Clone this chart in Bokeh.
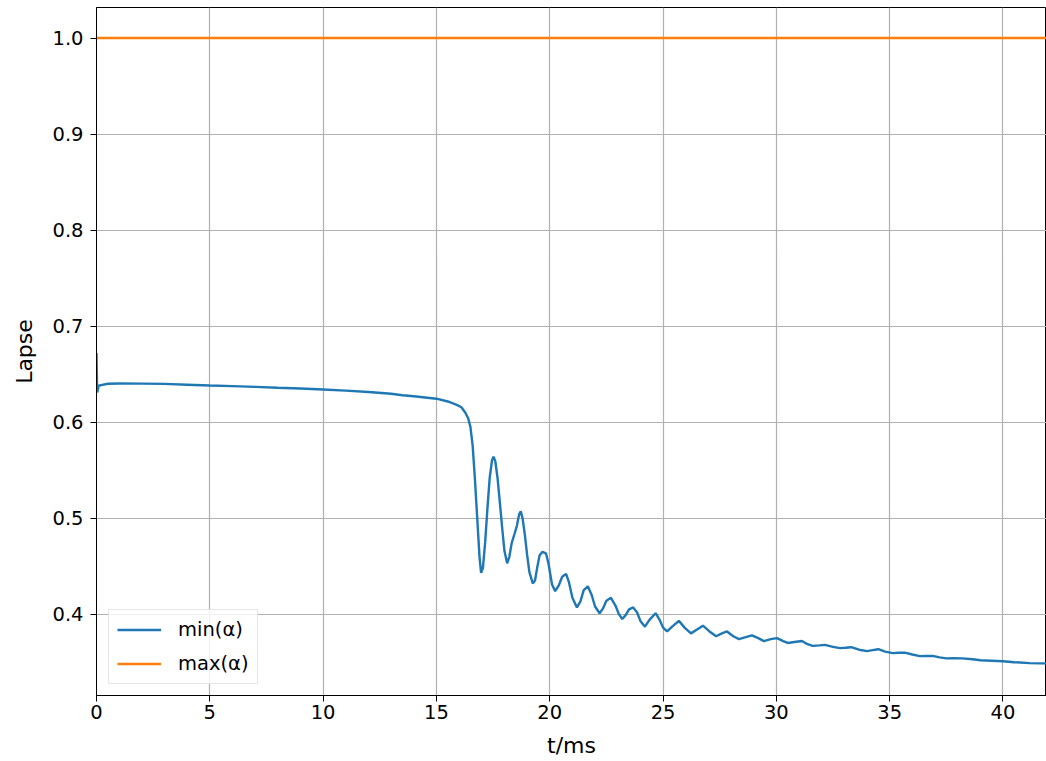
from bokeh.plotting import figure
from bokeh.models import Range1d, FixedTicker, PrintfTickFormatter, Legend, LegendItem
from bokeh.embed import file_html
from bokeh.resources import INLINE

# ---- data ----
t_min = [0.00, 0.03, 0.10, 0.5, 1.0, 2.0, 3.0, 4.0, 5.0, 6.0, 7.0, 8.0, 9.0, 10.0,
         11.0, 12.0, 13.0, 13.5, 14.0, 14.5, 15.0, 15.5, 15.9, 16.1, 16.27, 16.4,
         16.5, 16.6, 16.7, 16.8, 16.9, 16.97, 17.05, 17.15, 17.25, 17.35, 17.45,
         17.52, 17.6, 17.7, 17.8, 17.9, 18.0, 18.12, 18.22, 18.32, 18.45, 18.55,
         18.65, 18.72, 18.8, 18.9, 19.0, 19.1, 19.25, 19.35, 19.45, 19.55, 19.68,
         19.84, 19.95, 20.1, 20.24, 20.4, 20.55, 20.72, 20.85, 21.0, 21.2, 21.35,
         21.5, 21.68, 21.85, 22.0, 22.2, 22.35, 22.5, 22.7, 22.9, 23.05, 23.2,
         23.35, 23.5, 23.68, 23.85, 24.0, 24.2, 24.4, 24.67, 24.85, 25.0, 25.18,
         25.4, 25.7, 25.95, 26.23, 26.5, 26.76, 27.05, 27.34, 27.6, 27.82, 28.1,
         28.35, 28.65, 28.92, 29.2, 29.45, 29.75, 30.03, 30.3, 30.5, 30.8, 31.13,
         31.35, 31.6, 31.9, 32.14, 32.5, 32.8, 33.05, 33.3, 33.65, 34.0, 34.25,
         34.5, 34.8, 35.14, 35.4, 35.67, 36.0, 36.33, 36.6, 36.9, 37.2, 37.5,
         37.85, 38.2, 38.67, 39.0, 39.5, 40.0, 40.5, 41.18, 41.6, 41.92]
alpha_min = [0.672, 0.631, 0.638, 0.640, 0.6402, 0.6401, 0.6398, 0.639, 0.6382,
             0.6375, 0.6367, 0.6358, 0.635, 0.634, 0.6328, 0.6314, 0.6295, 0.628,
             0.627, 0.6257, 0.6244, 0.6215, 0.618, 0.6155, 0.610, 0.604, 0.595,
             0.575, 0.540, 0.500, 0.460, 0.443, 0.448, 0.475, 0.510, 0.542, 0.560,
             0.564, 0.559, 0.541, 0.516, 0.490, 0.466, 0.453, 0.460, 0.474, 0.484,
             0.492, 0.504, 0.507, 0.500, 0.483, 0.462, 0.444, 0.432, 0.435, 0.449,
             0.461, 0.465, 0.463, 0.452, 0.431, 0.424, 0.430, 0.439, 0.442, 0.433,
             0.417, 0.407, 0.413, 0.425, 0.429, 0.420, 0.408, 0.401, 0.406, 0.414,
             0.417, 0.409, 0.400, 0.395, 0.399, 0.405, 0.407, 0.402, 0.393, 0.387,
             0.394, 0.401, 0.394, 0.386, 0.382, 0.387, 0.393, 0.386, 0.380, 0.384,
             0.388, 0.382, 0.377, 0.380, 0.382, 0.377, 0.374, 0.376, 0.378, 0.375,
             0.372, 0.374, 0.375, 0.372, 0.370, 0.371, 0.372, 0.369, 0.367, 0.3675,
             0.368, 0.366, 0.3646, 0.365, 0.3656, 0.363, 0.3615, 0.3625, 0.3635,
             0.361, 0.3594, 0.3598, 0.360, 0.358, 0.3563, 0.3565, 0.3566, 0.355,
             0.354, 0.3542, 0.354, 0.353, 0.352, 0.3515, 0.351, 0.350, 0.349,
             0.3488, 0.3488]
t_max = [0.0, 41.92]
alpha_max = [1.0, 1.0]
x_ticks = [0, 5, 10, 15, 20, 25, 30, 35, 40]
y_ticks = [0.4, 0.5, 0.6, 0.7, 0.8, 0.9, 1.0]

FONT = "DejaVu Sans"

p = figure(width=1046, height=761, output_backend="svg", toolbar_location=None,
           x_range=Range1d(0, 41.92), y_range=Range1d(0.3153, 1.0318),
           min_border_left=96, min_border_right=0, min_border_top=7,
           min_border_bottom=66)
p.background_fill_color = "white"
p.border_fill_color = "white"
p.outline_line_color = "black"
p.outline_line_width = 1

for ax, ticks in ((p.xaxis[0], x_ticks), (p.yaxis[0], y_ticks)):
    ax.ticker = FixedTicker(ticks=ticks)
    ax.major_tick_in = 0
    ax.major_tick_out = 6
    ax.minor_tick_line_color = None
    ax.axis_line_color = "black"
    ax.major_tick_line_color = "black"
    ax.major_label_text_font = FONT
    ax.major_label_text_font_size = "19.5px"
    ax.major_label_text_color = "black"
    ax.axis_label_text_font = FONT
    ax.axis_label_text_font_size = "22px"
    ax.axis_label_text_font_style = "normal"
    ax.axis_label_text_color = "black"

p.xaxis[0].axis_label = "t/ms"
p.xaxis[0].major_label_standoff = 3
p.xaxis[0].axis_label_standoff = 11
p.yaxis[0].axis_label = "Lapse"
p.yaxis[0].formatter = PrintfTickFormatter(format="%.1f")
p.yaxis[0].major_label_standoff = 7
p.yaxis[0].axis_label_standoff = 12

p.grid.grid_line_color = "#b0b0b0"
p.grid.grid_line_width = 1.2

r_min = p.line(t_min, alpha_min, line_color="#1f77b4", line_width=2.4)
r_max = p.line(t_max, alpha_max, line_color="#ff7f0e", line_width=2.4)

legend = Legend(items=[LegendItem(label="min(α)", renderers=[r_min]),
                       LegendItem(label="max(α)", renderers=[r_max])],
                location=(12, 11))
legend.label_text_font = FONT
legend.label_text_font_size = "19.5px"
legend.label_text_color = "black"
legend.glyph_width = 44
legend.glyph_height = 23
legend.label_height = 23
legend.label_width = 70
legend.label_standoff = 17
legend.spacing = 11
legend.padding = 8
legend.margin = 0
legend.border_line_color = "#cccccc"
legend.border_line_width = 1
legend.background_fill_alpha = 0.8
p.add_layout(legend, "center")

open("out.html", "w").write(file_html(p, INLINE))
